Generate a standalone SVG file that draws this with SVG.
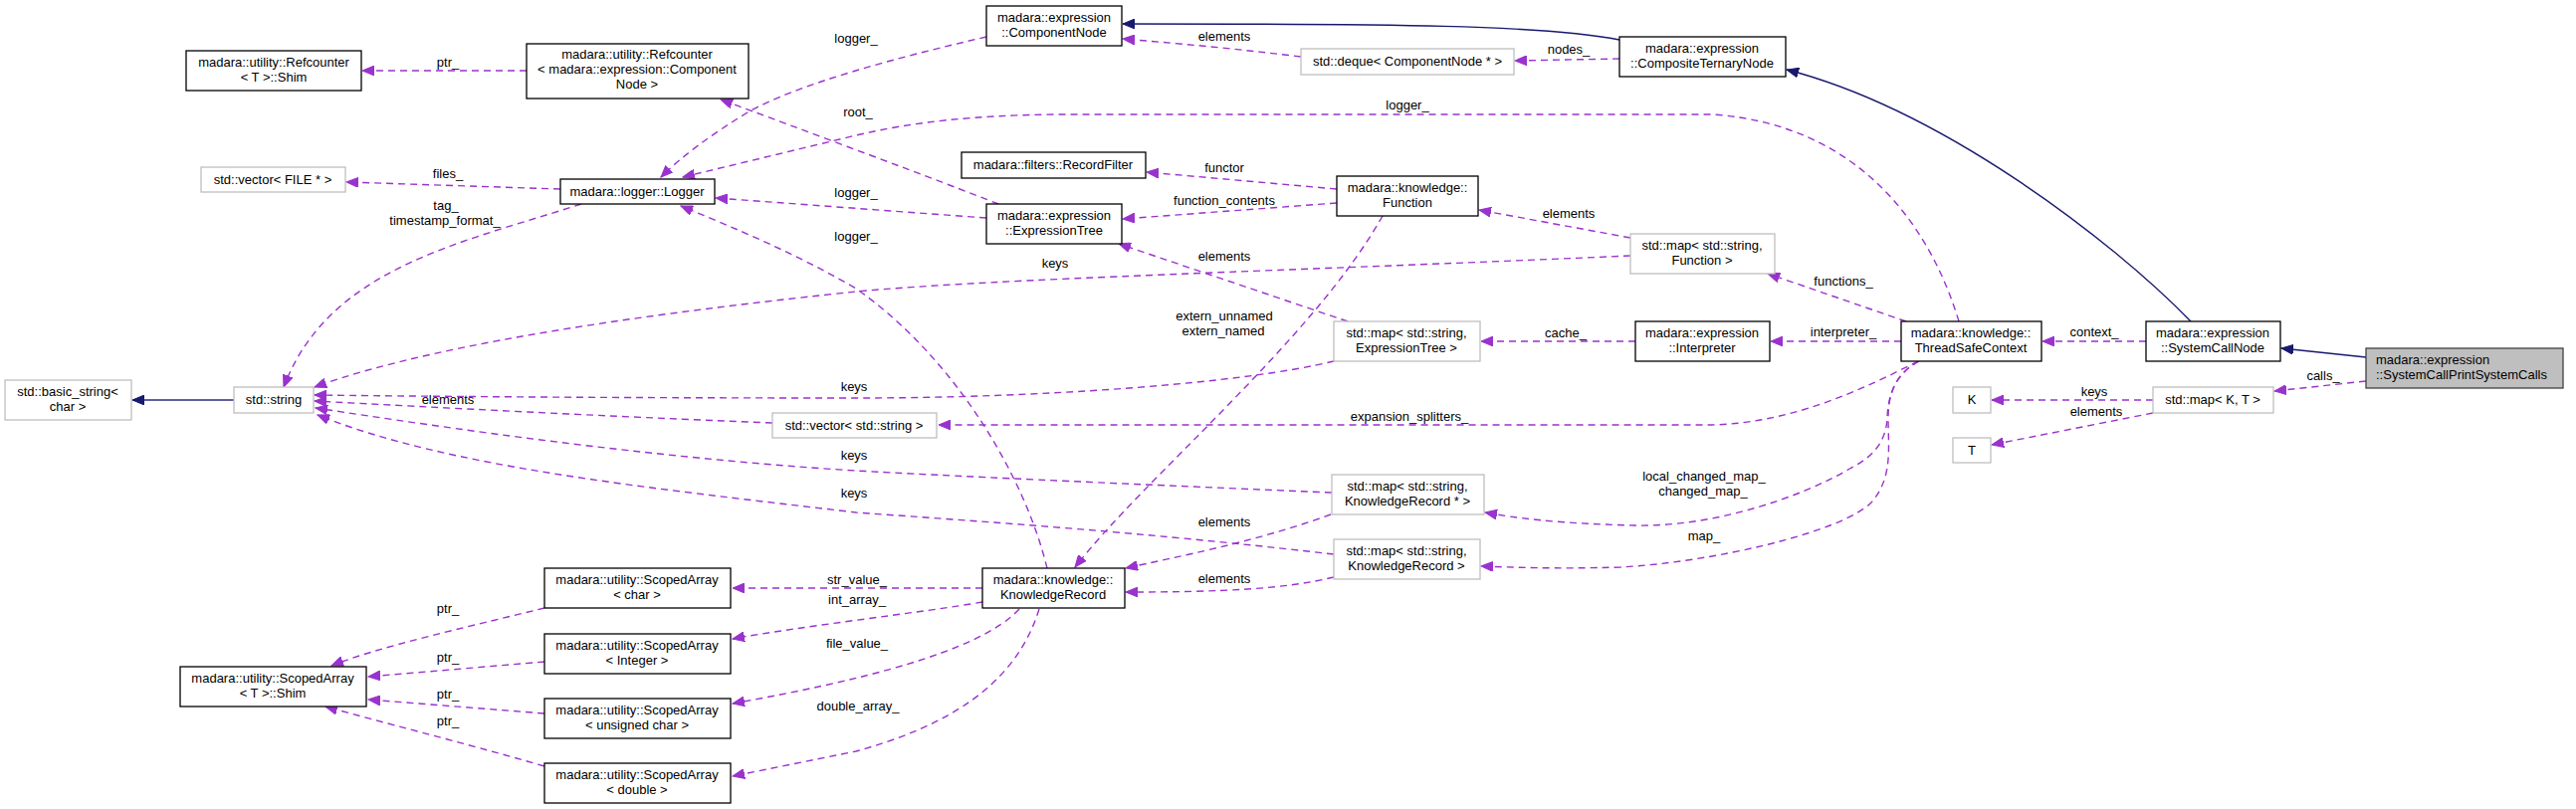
<svg xmlns="http://www.w3.org/2000/svg" width="2588" height="813" viewBox="0 0 2588 813">
<style>
text{font-family:"Liberation Sans",Arial,Helvetica,sans-serif;font-size:13px;fill:#000;text-anchor:middle}
.node rect{fill:#fff;stroke:#000;stroke-width:1.3}
.node.u rect{stroke:#bfbfbf}
.node.cur rect{fill:#bfbfbf;stroke:#404040}
.node.cur text{text-anchor:start}
#edges path{fill:none;stroke:#9a32cd;stroke-width:1.4;stroke-dasharray:7,5;marker-end:url(#pa)}
#edges path.inh{stroke:#191970;stroke-dasharray:none;marker-end:url(#ia)}
#edges path.inh.soft{stroke:#5f5f9f;stroke-width:2}
</style>
<defs>
<marker id="pa" markerWidth="13" markerHeight="10" refX="12" refY="5" orient="auto" markerUnits="userSpaceOnUse"><path d="M0,0 L12,5 L0,10 z" fill="#9a32cd" stroke="#9a32cd" stroke-width="1"/></marker>
<marker id="ia" markerWidth="13" markerHeight="10" refX="12" refY="5" orient="auto" markerUnits="userSpaceOnUse"><path d="M0,0 L12,5 L0,10 z" fill="#191970" stroke="#191970" stroke-width="1"/></marker>
</defs>
<rect width="2588" height="813" fill="#fff"/>
<g id="edges">
<path class="inh" d="M1627,40 C1550,25 1400,24 1128,24"/>
<path class="inh" d="M2201,323 C2120,240 1950,110 1795,70"/>
<path class="inh" d="M2377,359 L2292,350"/>
<path class="inh soft" d="M235,402 L133,402"/>
<path d="M529,71 L364,71"/>
<path d="M991,37 C900,58 800,85 751,113 C715,135 685,157 664,178"/>
<path d="M1003,205 C950,184 800,128 724,100"/>
<path d="M1968,323 C1940,230 1870,125 1720,115 L1060,115 C980,116 920,122 860,136 L686,178"/>
<path d="M991,219 L719,199"/>
<path d="M1052,571 C1030,480 960,360 860,290 C800,255 740,230 684,207"/>
<path d="M584,205 C460,245 330,270 285,389"/>
<path d="M563,190 L348,183"/>
<path d="M1638,257 C1300,272 1000,280 860,293 C700,310 450,340 316,389"/>
<path d="M1340,363 C1250,385 1050,400 860,400 C600,400 400,398 316,397"/>
<path d="M776,425 C600,418 450,410 316,403"/>
<path d="M1338,495 C1100,485 950,478 860,473 C650,460 450,430 317,410"/>
<path d="M1340,557 C1150,535 1000,525 860,515 C650,490 450,470 319,417"/>
<path d="M1927,363 C1870,392 1800,425 1720,427 L943,427"/>
<path d="M987,591 L736,591"/>
<path d="M987,605 C930,615 800,630 736,642"/>
<path d="M1024,612 C985,655 860,685 736,707"/>
<path d="M1044,612 C1020,690 950,730 860,755 L736,780"/>
<path d="M547,611 C470,630 380,650 333,669"/>
<path d="M547,665 L370,680"/>
<path d="M547,717 L370,703"/>
<path d="M547,770 C460,745 380,725 327,710"/>
<path d="M1343,190 L1152,173"/>
<path d="M1343,204 L1128,220"/>
<path d="M1638,239 L1486,211"/>
<path d="M1915,323 L1776,275"/>
<path d="M1910,343 L1779,343"/>
<path d="M1643,343 L1488,343"/>
<path d="M1354,323 L1124,245"/>
<path d="M1389,217 C1320,340 1150,480 1080,570"/>
<path d="M1337,517 C1260,545 1180,560 1131,571"/>
<path d="M1340,580 C1290,592 1230,595 1131,595"/>
<path d="M1928,363 C1905,375 1897,395 1896,420 C1895,445 1880,460 1860,470 C1810,500 1720,530 1642,528 C1560,526 1520,520 1492,515"/>
<path d="M1928,363 C1905,375 1897,395 1897,420 C1897,450 1902,480 1880,505 C1850,535 1720,565 1628,570 C1560,572 1520,570 1488,569"/>
<path d="M2156,343 L2052,343"/>
<path d="M2377,383 L2285,393"/>
<path d="M2163,402 L2001,402"/>
<path d="M2163,415 L2001,447"/>
<path d="M1307,57 C1250,50 1200,45 1128,39"/>
<path d="M1627,59 L1522,61"/>
</g>
<g id="labels">
<text x="450" y="67">ptr_</text>
<text x="860" y="43">logger_</text>
<text x="862" y="117">root_</text>
<text x="1414" y="110">logger_</text>
<text x="860" y="198">logger_</text>
<text x="860" y="242">logger_</text>
<text x="450" y="179">files_</text>
<text x="448" y="211">tag_</text>
<text x="447" y="226">timestamp_format_</text>
<text x="1060" y="269">keys</text>
<text x="858" y="393">keys</text>
<text x="450" y="406">elements</text>
<text x="858" y="462">keys</text>
<text x="858" y="500">keys</text>
<text x="1416" y="423">expansion_splitters_</text>
<text x="861" y="587">str_value_</text>
<text x="861" y="607">int_array_</text>
<text x="861" y="651">file_value_</text>
<text x="862" y="714">double_array_</text>
<text x="450" y="616">ptr_</text>
<text x="450" y="665">ptr_</text>
<text x="450" y="702">ptr_</text>
<text x="450" y="729">ptr_</text>
<text x="1230" y="173">functor</text>
<text x="1230" y="206">function_contents</text>
<text x="1576" y="219">elements</text>
<text x="1852" y="287">functions_</text>
<text x="1852" y="338">interpreter_</text>
<text x="1573" y="339">cache_</text>
<text x="1230" y="262">elements</text>
<text x="1230" y="322">extern_unnamed</text>
<text x="1229" y="337">extern_named</text>
<text x="1230" y="529">elements</text>
<text x="1230" y="586">elements</text>
<text x="1712" y="483">local_changed_map_</text>
<text x="1711" y="498">changed_map_</text>
<text x="1712" y="543">map_</text>
<text x="2104" y="338">context_</text>
<text x="2334" y="382">calls_</text>
<text x="2104" y="398">keys</text>
<text x="2106" y="418">elements</text>
<text x="1230" y="41">elements</text>
<text x="1576" y="54">nodes_</text>
</g>
<g id="n_refshim" class="node"><rect x="187" y="51" width="176" height="40"/><text x="275" y="67">madara::utility::Refcounter</text><text x="275" y="82">&lt; T &gt;::Shim</text></g>
<g id="n_refcn" class="node"><rect x="529" y="44" width="223" height="55"/><text x="640" y="59">madara::utility::Refcounter</text><text x="640" y="74">&lt; madara::expression::Component</text><text x="640" y="89">Node &gt;</text></g>
<g id="n_vecfile" class="node u"><rect x="202" y="168" width="145" height="25"/><text x="274" y="185">std::vector&lt; FILE * &gt;</text></g>
<g id="n_logger" class="node"><rect x="563" y="180" width="155" height="25"/><text x="640" y="197">madara::logger::Logger</text></g>
<g id="n_basicstr" class="node u"><rect x="5" y="382" width="127" height="40"/><text x="68" y="398">std::basic_string&lt;</text><text x="68" y="413">char &gt;</text></g>
<g id="n_string" class="node u"><rect x="235" y="389" width="80" height="26"/><text x="275" y="406">std::string</text></g>
<g id="n_compnode" class="node"><rect x="991" y="6" width="136" height="40"/><text x="1059" y="22">madara::expression</text><text x="1059" y="37">::ComponentNode</text></g>
<g id="n_deque" class="node u"><rect x="1307" y="49" width="214" height="26"/><text x="1414" y="66">std::deque&lt; ComponentNode * &gt;</text></g>
<g id="n_ctn" class="node"><rect x="1627" y="37" width="167" height="40"/><text x="1710" y="53">madara::expression</text><text x="1710" y="68">::CompositeTernaryNode</text></g>
<g id="n_recfilter" class="node"><rect x="966" y="153" width="185" height="26"/><text x="1058" y="170">madara::filters::RecordFilter</text></g>
<g id="n_exprtree" class="node"><rect x="991" y="205" width="136" height="40"/><text x="1059" y="221">madara::expression</text><text x="1059" y="236">::ExpressionTree</text></g>
<g id="n_function" class="node"><rect x="1343" y="177" width="142" height="40"/><text x="1414" y="193">madara::knowledge::</text><text x="1414" y="208">Function</text></g>
<g id="n_mapfunc" class="node u"><rect x="1638" y="235" width="145" height="40"/><text x="1710" y="251">std::map&lt; std::string,</text><text x="1710" y="266">Function &gt;</text></g>
<g id="n_mapet" class="node u"><rect x="1340" y="323" width="147" height="40"/><text x="1413" y="339">std::map&lt; std::string,</text><text x="1413" y="354">ExpressionTree &gt;</text></g>
<g id="n_interp" class="node"><rect x="1643" y="323" width="135" height="40"/><text x="1710" y="339">madara::expression</text><text x="1710" y="354">::Interpreter</text></g>
<g id="n_tsc" class="node"><rect x="1910" y="323" width="141" height="40"/><text x="1980" y="339">madara::knowledge::</text><text x="1980" y="354">ThreadSafeContext</text></g>
<g id="n_scn" class="node"><rect x="2156" y="323" width="135" height="40"/><text x="2223" y="339">madara::expression</text><text x="2223" y="354">::SystemCallNode</text></g>
<g id="n_scpsc" class="node cur"><rect x="2377" y="350" width="198" height="40"/><text x="2387" y="366">madara::expression</text><text x="2387" y="381">::SystemCallPrintSystemCalls</text></g>
<g id="n_k" class="node u"><rect x="1962" y="389" width="38" height="26"/><text x="1981" y="406">K</text></g>
<g id="n_mapkt" class="node u"><rect x="2163" y="389" width="121" height="26"/><text x="2223" y="406">std::map&lt; K, T &gt;</text></g>
<g id="n_t" class="node u"><rect x="1962" y="440" width="38" height="25"/><text x="1981" y="457">T</text></g>
<g id="n_vecstr" class="node u"><rect x="776" y="415" width="165" height="25"/><text x="858" y="432">std::vector&lt; std::string &gt;</text></g>
<g id="n_mapkrp" class="node u"><rect x="1338" y="477" width="153" height="40"/><text x="1414" y="493">std::map&lt; std::string,</text><text x="1414" y="508">KnowledgeRecord * &gt;</text></g>
<g id="n_mapkr" class="node u"><rect x="1340" y="542" width="147" height="40"/><text x="1413" y="558">std::map&lt; std::string,</text><text x="1413" y="573">KnowledgeRecord &gt;</text></g>
<g id="n_kr" class="node"><rect x="987" y="571" width="143" height="40"/><text x="1058" y="587">madara::knowledge::</text><text x="1058" y="602">KnowledgeRecord</text></g>
<g id="n_sachar" class="node"><rect x="547" y="571" width="187" height="40"/><text x="640" y="587">madara::utility::ScopedArray</text><text x="640" y="602">&lt; char &gt;</text></g>
<g id="n_saint" class="node"><rect x="547" y="637" width="187" height="40"/><text x="640" y="653">madara::utility::ScopedArray</text><text x="640" y="668">&lt; Integer &gt;</text></g>
<g id="n_sauchar" class="node"><rect x="547" y="702" width="187" height="40"/><text x="640" y="718">madara::utility::ScopedArray</text><text x="640" y="733">&lt; unsigned char &gt;</text></g>
<g id="n_sadouble" class="node"><rect x="547" y="767" width="187" height="40"/><text x="640" y="783">madara::utility::ScopedArray</text><text x="640" y="798">&lt; double &gt;</text></g>
<g id="n_sashim" class="node"><rect x="181" y="670" width="187" height="40"/><text x="274" y="686">madara::utility::ScopedArray</text><text x="274" y="701">&lt; T &gt;::Shim</text></g>
</svg>
